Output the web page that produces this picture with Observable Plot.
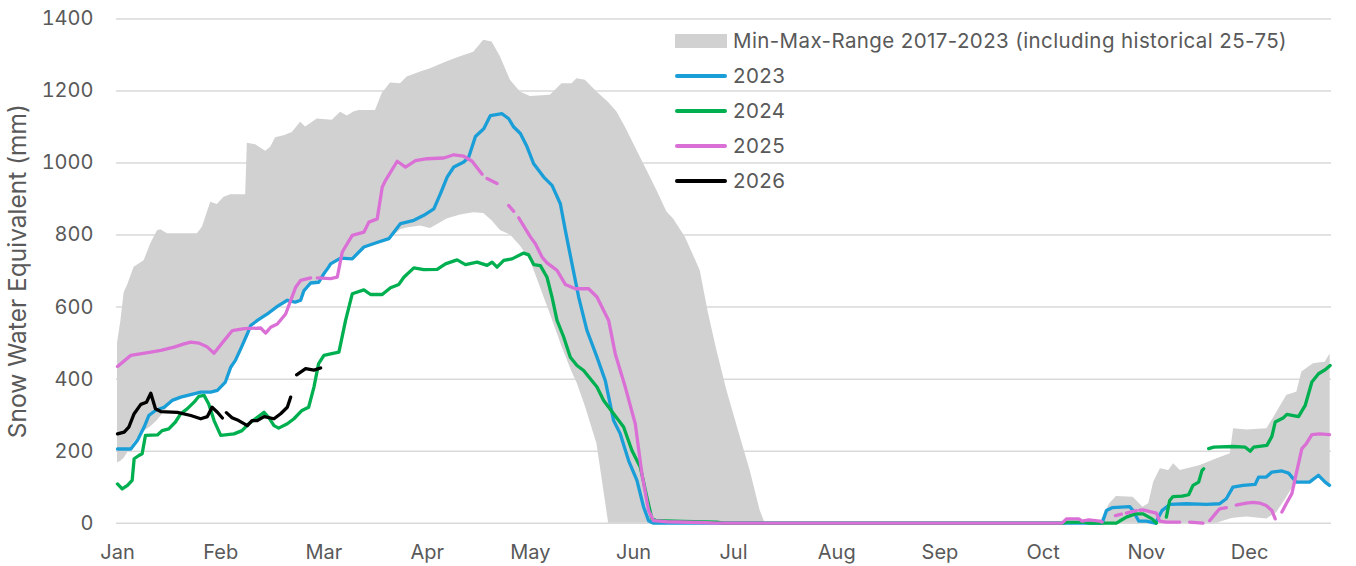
<!DOCTYPE html>
<html><head><meta charset="utf-8">
<script src="https://cdn.jsdelivr.net/npm/d3@7"></script>
<script src="https://cdn.jsdelivr.net/npm/@observablehq/plot@0.6"></script>
<style>
body{margin:0;background:#fff;}
#wrap{position:relative;width:1356px;height:566px;font-family:Inter,"Noto Sans",sans-serif;}
.legend{position:absolute;left:675px;top:23.5px;color:#595959;font-size:20.5px;letter-spacing:0.4px;line-height:1;}
.row{display:flex;align-items:center;height:35px;white-space:nowrap;}
.sw{width:52px;margin-right:6px;flex:none;}
</style></head><body><div id="wrap"></div><script>
// ---- data (day of year, SWE mm) ----
const monthLabels = ["Jan","Feb","Mar","Apr","May","Jun","Jul","Aug","Sep","Oct","Nov","Dec"];
const monthDays = [0,31,62,93,124,155,185,216,247,278,309,340];
const yTicks = [0,200,400,600,800,1000,1200,1400];
const yLabel = "Snow Water Equivalent (mm)";
const bandLabel = "Min-Max-Range 2017-2023 (including historical 25-75)";

// [day, min, max]
const band = [[0,167,500],[1,172,560],[2,180,640],[3,195,660],[5,225,711],[8,255,729],[10,268,776],[12,285,812],[13,297,815],[15,320,804],[18,348,804],[24,362,804],[25.5,364,822],[28,364,891],[30,369,885],[32,388,905],[34,433,912],[38.5,510,912],[39,526,1055],[41.5,560,1051],[44.5,578,1033],[46,588,1044],[47.5,599,1070],[50,613,1076],[52.5,616,1085],[55,619,1113],[56.5,655,1100],[60,669,1122],[64.5,722,1119],[67,736,1141],[69,735,1131],[71,736,1142],[72.5,752,1146],[77.5,778,1146],[79.5,785,1193],[82,790,1222],[85,815,1220],[87,820,1239],[91,825,1253],[94,818,1262],[99,845,1281],[103,856,1295],[107,862,1308],[110,860,1341],[112.5,840,1336],[115,813,1295],[118,800,1230],[121,770,1197],[124,730,1185],[130,580,1188],[133.5,490,1220],[136.5,420,1220],[138,390,1234],[140.5,325,1230],[144,220,1197],[147.5,0,1168],[150,0,1142],[152.5,0,1100],[158,0,998],[162,0,924],[165,0,864],[167,0,845],[170.5,0,795],[175,0,702],[177.5,0,582],[180,0,480],[183,0,369],[186.5,0,257],[190,0,146],[193,0,35],[194.5,0,0],[295,0,0],[298,0,54],[300,0,74],[305,0,72],[306,0,63],[308,0,44],[309.7,0,54],[311.2,0,114],[313.2,0,151],[315.7,0,146],[317.2,0,165],[319.2,0,146],[325.2,0,160],[330.2,0,179],[334.2,12,193],[335.2,14,262],[339.2,17,259],[345.2,12,262],[348.2,30,308],[351.2,72,355],[353,100,360],[354.2,114,364],[355.7,114,420],[358,114,435],[359.2,120,443],[360.7,133,445],[362.7,114,447],[364.2,105,470]];

const s2023 = [[0,206],[4,206],[6,230],[8,267],[9.4,299],[11.4,313],[14,322],[16.4,341],[19,350],[22,357],[25,364],[28,364],[30,369],[32.4,392],[34,433],[35.4,452],[37,484],[39,526],[40,549],[42,563],[45,581],[48,602],[51,619],[53.4,614],[55,619],[56,646],[58,667],[60.4,669],[62,693],[63.4,711],[64,720],[67,736],[70.5,734],[74,767],[77.5,778],[81.5,790],[85,832],[89,841],[92,855],[95,873],[97,915],[99,961],[101,989],[104,1003],[105.5,1017],[107.5,1074],[110,1095],[112,1132],[115.5,1137],[117.5,1123],[119,1100],[121,1082],[123,1045],[125,998],[128,961],[130.5,938],[133,887],[134.5,813],[136.5,720],[138.5,628],[141,535],[144,461],[146.5,396],[149,285],[151,248],[153.5,174],[156,119],[158,45],[159.5,7],[161,0],[295.7,0],[297,35],[298.7,43],[304,46],[305,35],[306.7,6],[309,6],[311.7,0],[313.7,35],[316,52],[321,54],[327,52],[331,54],[333,68],[335,100],[338,105],[341.7,108],[342.7,128],[345,128],[346.7,142],[349.7,145],[351.7,139],[354,114],[358,114],[360.7,133],[362.7,114],[364,105]];

const s2024 = [[0,109],[1.4,95],[3,105],[4.4,119],[5,179],[6.4,188],[7.4,193],[8.4,244],[12,245],[13.4,257],[15.4,262],[17.4,281],[19,304],[21,318],[23,336],[24.4,352],[26,355],[27.4,331],[29,285],[31,244],[35,248],[37.4,257],[39.4,276],[42,294],[44,308],[45.4,294],[47,271],[48.4,264],[51,276],[53,290],[55.4,313],[57.4,322],[59,378],[60.4,443],[62,466],[64,470],[66.5,475],[68.5,563],[70.5,637],[74,648],[76,635],[79.5,635],[82,654],[84.5,663],[86,683],[89,709],[92,704],[96,705],[98.5,720],[102,731],[104.5,718],[108,725],[111,716],[112.5,725],[114,711],[116,730],[118.5,734],[122,750],[123.5,745],[125,718],[127,715],[129,683],[130.5,628],[132,563],[134,517],[136,461],[138,438],[140,424],[142,401],[144,378],[146,341],[149,304],[152,267],[154.5,202],[157,156],[159,72],[160.5,12],[162,7],[170,5],[180,3],[182,0],[284,0],[285,3],[290,3],[292,0],[300,0],[301,6],[303,17],[305.7,26],[308,26],[310.7,12],[312,0],[313.5,null],[315,17],[316,63],[317,74],[319.7,75],[321.7,79],[323,105],[324.7,114],[325.7,146],[326.2,151],[327,null],[327.7,207],[329.2,211],[335,213],[338.7,211],[340.2,200],[341.2,211],[345.2,216],[346.7,241],[347.7,281],[350.2,293],[351.2,302],[354.7,296],[356.7,327],[358.7,392],[360.7,415],[362.7,426],[364.2,438]];

const s2025 = [[0,435],[4,466],[10,475],[13,480],[17,489],[20,498],[22,503],[24.5,500],[27,489],[29,472],[32,507],[34.5,535],[38,540],[43,542],[44.5,528],[46,544],[48,553],[50.5,581],[52,618],[53.5,655],[55,674],[58,681],[59,null],[60,681],[64,679],[66,683],[67.5,753],[70.5,799],[74,808],[75.5,836],[78,845],[79.5,933],[80.5,952],[84,1005],[86.5,989],[89.5,1007],[93,1012],[98,1014],[101,1023],[104,1019],[106.5,1005],[109.5,969],[110.2,null],[111,957],[114,943],[116,null],[117.5,882],[119,866],[119.8,null],[120.5,848],[124,795],[125.5,776],[127.5,739],[129,723],[132,702],[134.5,663],[137.5,651],[141.5,651],[144,628],[147.5,563],[149.5,470],[152.5,378],[155.5,276],[157.5,137],[159.5,35],[161,7],[165,4],[175,2],[180,0],[283.7,0],[285,12],[288.7,12],[289.7,6],[291.7,9],[295,6],[295.7,3],[297,null],[299.7,21],[301.5,25],[302.2,null],[303,28],[306,35],[306.5,null],[307,36],[308,37],[310.7,31],[312,28],[313,6],[315,3],[319,3],[320.5,null],[322,3],[326,0],[327,null],[328,7],[329.7,26],[331,40],[333,43],[334.5,null],[336,50],[337,52],[339,56],[341,58],[343,56],[345,49],[346.7,35],[347.7,12],[348.7,null],[349.7,31],[351,54],[352.7,82],[354,137],[355.7,207],[357,220],[358.7,246],[361,248],[364,246]];

const s2026 = [[0,248],[2,253],[3.4,267],[5,304],[7,330],[8.7,336],[10,361],[11.4,318],[13,310],[18,308],[22,299],[25,290],[27,296],[28.4,322],[30,308],[31.5,292],[32.1,null],[32.7,307],[34.4,293],[36.4,285],[39,271],[40.4,285],[42,285],[44,296],[47,290],[49,304],[51,322],[52,350],[53,null],[53.8,412],[56.5,429],[59,425],[61,431]];

const seriesNames = ["2023","2024","2025","2026"];
const seriesData = [s2023, s2024, s2025, s2026];
const seriesColors = ["#1a9ed8","#00b050","#da70d6","#000000"];
const bandColor = "#d1d1d1";
const textColor = "#595959";

const lineMarks = seriesData.map((s, i) => Plot.line(s, {
  x: d => d[0], y: d => d[1], stroke: seriesColors[i], strokeWidth: 3.3,
  strokeLinejoin: "round", strokeLinecap: "round"
}));

const chart = Plot.plot({
  width: 1356, height: 566,
  marginLeft: 116, marginRight: 25, marginTop: 18.5, marginBottom: 43.3,
  x: {domain: [-0.3, 364.6]},
  y: {domain: [0, 1400]},
  style: {fontFamily: 'Inter, "Noto Sans", sans-serif', fontSize: "20px", color: textColor, background: "#fff", overflow: "visible"},
  marks: [
    Plot.ruleY(yTicks, {stroke: "#d9d9d9", strokeWidth: 1.5}),
    Plot.areaY(band, {x: d => d[0], y1: d => d[1], y2: d => d[2], fill: bandColor}),
    Plot.axisY({ticks: yTicks, tickFormat: d => String(d), tickSize: 0, tickPadding: 23, label: null, fontSize: 20, fill: textColor}),
    Plot.axisX({ticks: monthDays, tickFormat: d => monthLabels[monthDays.indexOf(d)], tickSize: 0, tickPadding: 22, label: null, fontSize: 20, fill: textColor}),
    Plot.text([yLabel], {frameAnchor: "left", textAnchor: "middle", lineAnchor: "middle", rotate: -90, dx: -98, fontSize: 24.5, fill: textColor}),
    ...lineMarks
  ]
});

const wrap = document.getElementById("wrap");
wrap.appendChild(chart);

// legend (inside plot area, top right)
const leg = document.createElement("div");
leg.className = "legend";
const items = [{name: bandLabel, type: "band", color: bandColor}]
  .concat(seriesNames.map((n, i) => ({name: n, type: "line", color: seriesColors[i]})));
for (const it of items) {
  const row = document.createElement("div");
  row.className = "row";
  const sw = document.createElement("div");
  sw.className = "sw";
  if (it.type === "band") { sw.style.height = "14px"; sw.style.background = it.color; }
  else { sw.style.height = "4px"; sw.style.borderRadius = "2px"; sw.style.background = it.color; }
  const tx = document.createElement("span");
  tx.textContent = it.name;
  row.appendChild(sw); row.appendChild(tx);
  leg.appendChild(row);
}
wrap.appendChild(leg);
</script></body></html>
